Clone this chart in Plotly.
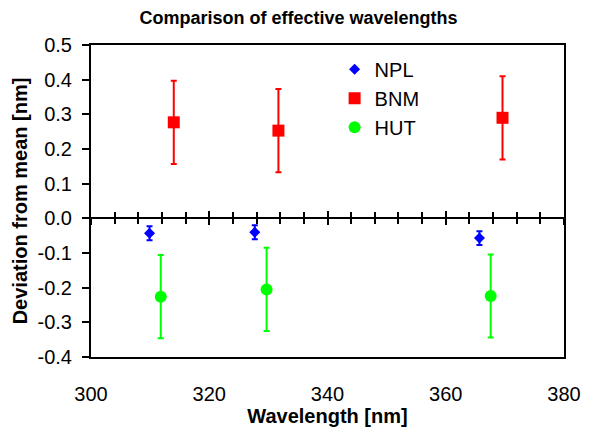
import plotly.graph_objects as go

# Data
npl_x = [309.9, 327.7, 365.7]
npl_y = [-0.043, -0.040, -0.057]
npl_err = [0.020, 0.020, 0.020]

bnm_x = [314.0, 331.7, 369.6]
bnm_y = [0.277, 0.253, 0.290]
bnm_err = [0.12, 0.12, 0.12]

hut_x = [311.8, 329.7, 367.6]
hut_y = [-0.226, -0.205, -0.224]
hut_err = [0.12, 0.12, 0.12]

y_tickvals = [0.5, 0.4, 0.3, 0.2, 0.1, 0.0, -0.1, -0.2, -0.3, -0.4]
y_ticktext = ["0.5", "0.4", "0.3", "0.2", "0.1", "0.0", "-0.1", "-0.2", "-0.3", "-0.4"]
x_tickvals = [300, 320, 340, 360, 380]

FONT = "Liberation Sans, Arial, sans-serif"

# The page body adds an 8px margin, so the figure is 8px smaller than the window
W, H = 581, 422

fig = go.Figure()

fig.add_trace(go.Scatter(
    x=npl_x, y=npl_y, mode="markers", name="NPL",
    marker=dict(symbol="diamond", size=8.5, color="#0000ff"),
    error_y=dict(type="data", array=npl_err, color="#0000ff", thickness=2, width=3),
))
fig.add_trace(go.Scatter(
    x=bnm_x, y=bnm_y, mode="markers", name="BNM",
    marker=dict(symbol="square", size=12, color="#ff0000"),
    error_y=dict(type="data", array=bnm_err, color="#ff0000", thickness=2, width=3),
))
fig.add_trace(go.Scatter(
    x=hut_x, y=hut_y, mode="markers", name="HUT",
    marker=dict(symbol="circle", size=12, color="#00ff00"),
    error_y=dict(type="data", array=hut_err, color="#00ff00", thickness=2, width=3),
))
# empty traces to register the zero-line tick axes
fig.add_trace(go.Scatter(x=[], y=[], xaxis="x2", showlegend=False, hoverinfo="skip"))
fig.add_trace(go.Scatter(x=[], y=[], xaxis="x3", showlegend=False, hoverinfo="skip"))

zero_pos = 0.4 / 0.9
tick_axis = dict(
    range=[300, 380], overlaying="x", anchor="free", position=zero_pos,
    showline=True, linecolor="black", linewidth=2,
    tick0=300, dtick=20, ticklen=6, tickwidth=2, tickcolor="black",
    showticklabels=False, showgrid=False, zeroline=False,
    minor=dict(dtick=4, ticklen=5, tickwidth=1.5, tickcolor="black", showgrid=False),
)

fig.update_layout(
    width=W, height=H,
    margin=dict(l=83, r=25, t=37, b=73),
    paper_bgcolor="white", plot_bgcolor="white",
    font=dict(family=FONT, color="black", size=20),
    title=dict(text="<b>Comparison of effective wavelengths</b>", x=0.5, xref="container",
               xanchor="center", yref="container", y=1 - 10 / H, yanchor="middle",
               font=dict(size=18)),
    showlegend=True,
    legend=dict(x=0.515, y=0.985, xanchor="left", yanchor="top", bgcolor="rgba(0,0,0,0)",
                font=dict(size=20)),
    xaxis=dict(
        range=[300, 380], tickvals=x_tickvals, ticks="outside", ticklen=18,
        tickcolor="rgba(0,0,0,0)", showline=True, linecolor="black", linewidth=2,
        mirror=True, showgrid=False, zeroline=False, automargin=False,
        title=dict(text="<b>Wavelength [nm]</b>", standoff=0, font=dict(size=20)),
        tickfont=dict(size=20),
    ),
    xaxis2=dict(tick_axis, ticks="outside", minor=dict(tick_axis["minor"], ticks="outside")),
    xaxis3=dict(tick_axis, ticks="inside", minor=dict(tick_axis["minor"], ticks="inside")),
    yaxis=dict(
        range=[-0.4, 0.5], tickvals=y_tickvals, ticktext=y_ticktext,
        ticks="outside", ticklen=7, tickwidth=1.5, tickcolor="black", ticklabelstandoff=6,
        showline=True, linecolor="black", linewidth=2, mirror=True,
        showgrid=False, zeroline=False, automargin=False,
        title=dict(text="<b>Deviation from mean [nm]</b>", standoff=5, font=dict(size=20)),
        tickfont=dict(size=20),
    ),
)

fig.write_html("out.html")
